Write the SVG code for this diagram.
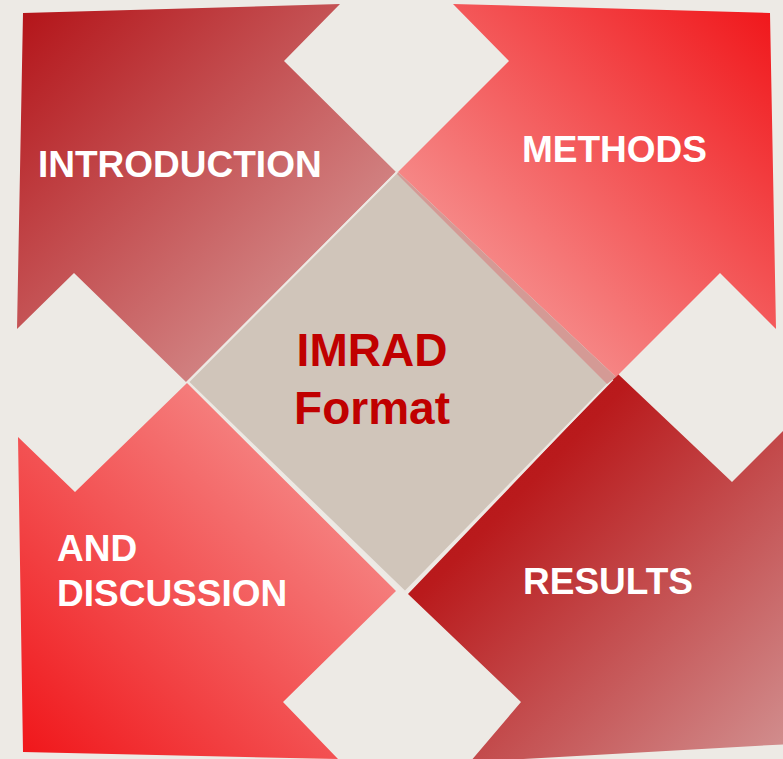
<svg xmlns="http://www.w3.org/2000/svg" width="783" height="759" viewBox="0 0 783 759">
<defs>
<linearGradient id="gIntro" x1="0" y1="0" x2="1" y2="1"><stop offset="0" stop-color="#B31217"/><stop offset="1" stop-color="#DCAAA8"/></linearGradient>
<linearGradient id="gMeth" x1="1" y1="0" x2="0" y2="1"><stop offset="0" stop-color="#F01519"/><stop offset="0.75" stop-color="#F68A89"/><stop offset="1" stop-color="#F79593"/></linearGradient>
<linearGradient id="gDisc" x1="0" y1="1" x2="1" y2="0"><stop offset="0" stop-color="#F01519"/><stop offset="0.75" stop-color="#F5807F"/><stop offset="1" stop-color="#F79593"/></linearGradient>
<linearGradient id="gRes" x1="0" y1="0" x2="1" y2="1"><stop offset="0" stop-color="#B31217"/><stop offset="0.3" stop-color="#B91A1C"/><stop offset="1" stop-color="#D29292"/></linearGradient>
</defs>
<style>
.lbl{font-family:"Liberation Sans",Arial,sans-serif;font-weight:bold;font-size:37px;fill:#FFFFFF}
.ctr{font-family:"Liberation Sans",Arial,sans-serif;font-weight:bold;font-size:46px;fill:#C00000;text-anchor:middle}
</style>
<rect width="783" height="759" fill="#EDEAE5"/>
<g id="intro">
<polygon points="23,13 340,4 284,61 396,172 186,382 74,273 17,329" fill="url(#gIntro)"/>
<text class="lbl" x="38" y="177">INTRODUCTION</text>
</g>
<g id="discussion">
<polygon points="187,383 396,591 283,702 338,759 23,752 18,437 75,492" fill="url(#gDisc)"/>
<text class="lbl" x="57" y="561">AND</text>
<text class="lbl" x="57" y="606">DISCUSSION</text>
</g>
<g id="results">
<polygon points="618,374 732,482 790,424 790,744 470,762 521,702 408,594" fill="url(#gRes)"/>
<text class="lbl" x="523" y="594">RESULTS</text>
</g>
<g id="center">
<polygon points="397,172 612,380 405,592 188,382" fill="#D0C5BA" stroke="#EDE8E3" stroke-width="2"/>
<text class="ctr" x="372" y="366">IMRAD</text>
<text class="ctr" x="372" y="424">Format</text>
</g>
<g id="methods">
<polygon points="453,4 770,13 776,329 720,273 616,377 398,172 509,61" fill="url(#gMeth)"/>
<polygon points="398,172 616,377 607,384 397,174" fill="#D49A95"/>
<text class="lbl" x="522" y="162">METHODS</text>
</g>
</svg>
